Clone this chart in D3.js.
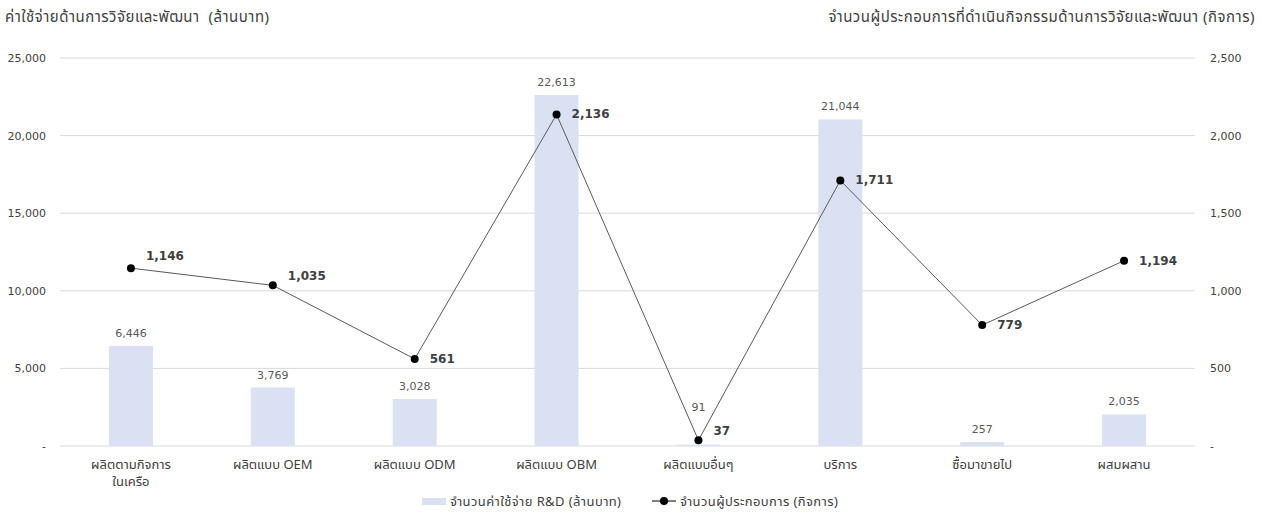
<!DOCTYPE html>
<html>
<head>
<meta charset="utf-8">
<script src="https://cdn.jsdelivr.net/npm/d3@7"></script>
<style>
  html, body { margin: 0; padding: 0; background: #ffffff; }
  svg { display: block; }
  text { font-family: "DejaVu Sans", Tahoma, "Noto Sans", sans-serif; }
</style>
</head>
<body>
<svg id="chart" width="1261" height="514"></svg>
<script>
// R&D spending (million baht) and number of firms doing R&D, by business type
const categories = [
  ["ผลิตตามกิจการ", "ในเครือ"],
  ["ผลิตแบบ OEM"],
  ["ผลิตแบบ ODM"],
  ["ผลิตแบบ OBM"],
  ["ผลิตแบบอื่นๆ"],
  ["บริการ"],
  ["ซื้อมาขายไป"],
  ["ผสมผสาน"]
];
const spending = [6446, 3769, 3028, 22613, 91, 21044, 257, 2035];
const firms = [1146, 1035, 561, 2136, 37, 1711, 779, 1194];
const leftTicks = [0, 5000, 10000, 15000, 20000, 25000];
const rightTicks = [0, 500, 1000, 1500, 2000, 2500];

const leftTitle = "ค่าใช้จ่ายด้านการวิจัยและพัฒนา\u00a0\u00a0(ล้านบาท)";
const rightTitle = "จำนวนผู้ประกอบการที่ดำเนินกิจกรรมด้านการวิจัยและพัฒนา (กิจการ)";
const legendBar = "จำนวนค่าใช้จ่าย R&D (ล้านบาท)";
const legendLine = "จำนวนผู้ประกอบการ (กิจการ)";

const svg = d3.select("#chart");
const plot = { left: 60, right: 1195, top: 58, bottom: 446 };

const x = d3.scaleBand()
  .domain(d3.range(categories.length))
  .range([plot.left, plot.right])
  .paddingInner(0.69)
  .paddingOuter(0.345);
const yL = d3.scaleLinear().domain([0, 25000]).range([plot.bottom, plot.top]);
const yR = d3.scaleLinear().domain([0, 2500]).range([plot.bottom, plot.top]);

const fmt = d3.format(",");
const tickFmt = v => v === 0 ? "-" : fmt(v);
const thaiFont = "Tahoma, 'Noto Sans Thai', 'Leelawadee UI', 'DejaVu Sans', sans-serif";

// gridlines
svg.append("g")
  .selectAll("line")
  .data(leftTicks)
  .join("line")
  .attr("x1", plot.left).attr("x2", plot.right)
  .attr("y1", d => yL(d)).attr("y2", d => yL(d))
  .attr("stroke", "#d9d9d9").attr("stroke-width", 1);

// left axis
const axL = svg.append("g")
  .attr("transform", `translate(${plot.left},0)`)
  .call(d3.axisLeft(yL).tickValues(leftTicks).tickFormat(tickFmt).tickSize(0).tickPadding(14));
axL.select(".domain").remove();
axL.selectAll("text").attr("font-size", 11).attr("fill", "#404040")
  .style("font-family", "'DejaVu Sans', sans-serif");

// right axis
const axR = svg.append("g")
  .attr("transform", `translate(${plot.right},0)`)
  .call(d3.axisRight(yR).tickValues(rightTicks).tickFormat(tickFmt).tickSize(0).tickPadding(15));
axR.select(".domain").remove();
axR.selectAll("text").attr("font-size", 11).attr("fill", "#404040")
  .style("font-family", "'DejaVu Sans', sans-serif");

// bars
svg.append("g")
  .selectAll("rect")
  .data(spending)
  .join("rect")
  .attr("x", (d, i) => x(i))
  .attr("y", d => yL(d))
  .attr("width", x.bandwidth())
  .attr("height", d => yL(0) - yL(d))
  .attr("fill", "#d9e1f2");

// bar value labels (the tiny bar's label sits higher to clear the line)
svg.append("g")
  .selectAll("text")
  .data(spending)
  .join("text")
  .attr("x", (d, i) => x(i) + x.bandwidth() / 2)
  .attr("y", (d, i) => yL(d) - 9 - (d < 200 && i === 4 ? 25 : 0))
  .attr("text-anchor", "middle")
  .attr("font-size", 11)
  .attr("fill", "#595959")
  .text(d => fmt(d));

// firm count line
const cx = i => x(i) + x.bandwidth() / 2;
svg.append("path")
  .datum(firms)
  .attr("d", d3.line().x((d, i) => cx(i)).y(d => yR(d)))
  .attr("fill", "none")
  .attr("stroke", "#595959")
  .attr("stroke-width", 1);

svg.append("g")
  .selectAll("circle")
  .data(firms)
  .join("circle")
  .attr("cx", (d, i) => cx(i))
  .attr("cy", d => yR(d))
  .attr("r", 4)
  .attr("fill", "#000");

// bold labels right of each point; a few lift upward to avoid the line
const labelLift = [12, 9, 0, 0, 9, 0, 0, 0];
svg.append("g")
  .selectAll("text")
  .data(firms)
  .join("text")
  .attr("x", (d, i) => cx(i) + 15)
  .attr("y", (d, i) => yR(d) - labelLift[i] + 4)
  .attr("font-size", 12)
  .attr("font-weight", "bold")
  .attr("fill", "#404040")
  .text(d => fmt(d));

// category labels, one text element per line
const catLines = categories.flatMap((lines, i) => lines.map((t, j) => ({ t, i, j })));
svg.append("g")
  .selectAll("text")
  .data(catLines)
  .join("text")
  .attr("x", d => cx(d.i))
  .attr("y", d => 469 + d.j * 17)
  .attr("text-anchor", "middle")
  .attr("font-size", 13)
  .attr("fill", "#404040")
  .style("font-family", thaiFont)
  .text(d => d.t);

// axis titles
svg.append("text")
  .attr("x", 5).attr("y", 22)
  .attr("font-size", 15)
  .attr("letter-spacing", 0.5)
  .attr("fill", "#404040")
  .style("font-family", thaiFont)
  .text(leftTitle);
svg.append("text")
  .attr("x", 1255).attr("y", 22)
  .attr("text-anchor", "end")
  .attr("font-size", 15)
  .attr("letter-spacing", 0.5)
  .attr("fill", "#404040")
  .style("font-family", thaiFont)
  .text(rightTitle);

// legend
const lg = svg.append("g");
lg.append("rect")
  .attr("x", 422).attr("y", 498).attr("width", 24).attr("height", 7)
  .attr("fill", "#d9e1f2");
lg.append("text")
  .attr("x", 450).attr("y", 506)
  .attr("font-size", 13).attr("letter-spacing", 0.4).attr("fill", "#404040")
  .style("font-family", thaiFont)
  .text(legendBar);
lg.append("line")
  .attr("x1", 652).attr("x2", 676).attr("y1", 501).attr("y2", 501)
  .attr("stroke", "#000").attr("stroke-width", 1);
lg.append("circle")
  .attr("cx", 664).attr("cy", 501).attr("r", 4).attr("fill", "#000");
lg.append("text")
  .attr("x", 680).attr("y", 506)
  .attr("font-size", 13).attr("letter-spacing", 0.4).attr("fill", "#404040")
  .style("font-family", thaiFont)
  .text(legendLine);
</script>
</body>
</html>
